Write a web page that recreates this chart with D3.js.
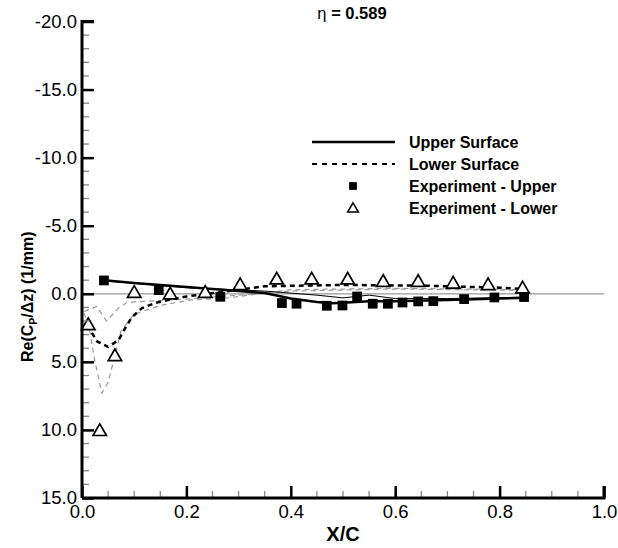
<!DOCTYPE html>
<html>
<head>
<meta charset="utf-8">
<script src="https://cdn.jsdelivr.net/npm/d3@7"></script>
<style>
  body { margin: 0; background: #fff; }
  text { font-family: "Liberation Sans", Arial, sans-serif; }
</style>
</head>
<body>
<script>
// experiment taps, upper surface
var expUpperX = [0.042, 0.147, 0.265, 0.383, 0.411, 0.469, 0.499, 0.527, 0.557, 0.586, 0.614, 0.644, 0.673, 0.732, 0.790, 0.847];
var expUpperY = [-0.98, -0.27, 0.22, 0.68, 0.73, 0.88, 0.86, 0.2, 0.73, 0.73, 0.64, 0.56, 0.54, 0.39, 0.27, 0.24];

// experiment taps, lower surface
var expLowerX = [0.012, 0.034, 0.063, 0.100, 0.169, 0.236, 0.303, 0.373, 0.440, 0.509, 0.577, 0.644, 0.711, 0.778, 0.844];
var expLowerY = [2.27, 10.05, 4.55, -0.1, 0.02, -0.1, -0.66, -1.08, -1.08, -1.08, -0.9, -0.9, -0.78, -0.66, -0.42];

// computed upper surface (thick solid)
var upperX = [0.042, 0.1, 0.2, 0.3, 0.35, 0.4, 0.45, 0.48, 0.5, 0.55, 0.6, 0.7, 0.8, 0.85];
var upperY = [-1.0, -0.8, -0.5, -0.2, -0.05, 0.35, 0.6, 0.7, 0.65, 0.55, 0.55, 0.45, 0.35, 0.3];

// computed lower surface (thick dashed)
var lowerX = [0.01, 0.029, 0.05, 0.07, 0.083, 0.096, 0.115, 0.14, 0.17, 0.2, 0.24, 0.3, 0.35, 0.5, 0.65, 0.8, 0.85];
var lowerY = [2.3, 3.5, 3.9, 3.4, 2.5, 1.7, 1.05, 0.68, 0.4, 0.2, 0.0, -0.3, -0.55, -0.65, -0.6, -0.45, -0.35];

// other runs (thin lines)
var thinUpperX = [0.042, 0.2, 0.35, 0.45, 0.5, 0.55, 0.6, 0.7, 0.85];
var thinUpperY = [-0.95, -0.45, -0.2, 0.1, 0.3, 0.1, 0.35, 0.35, 0.25];
var thinLowerAX = [0.004, 0.015, 0.025, 0.038, 0.05, 0.06, 0.075, 0.1, 0.15, 0.21, 0.28, 0.34, 0.4, 0.6, 0.85];
var thinLowerAY = [1.4, 2.8, 5.0, 7.3, 6.5, 5.0, 2.7, 1.5, 0.85, 0.45, 0.3, 0.0, -0.3, -0.4, -0.3];
var thinLowerBX = [0.004, 0.028, 0.047, 0.07, 0.086, 0.117, 0.18, 0.25, 0.3, 0.4, 0.6, 0.85];
var thinLowerBY = [1.3, 0.93, 2.0, 1.05, 0.64, 0.56, 0.44, 0.25, 0.1, -0.2, -0.35, -0.25];

var legendLabels = ["Upper Surface", "Lower Surface", "Experiment - Upper", "Experiment - Lower"];

var width = 618, height = 548;
var svg = d3.select("body").append("svg")
    .attr("width", width)
    .attr("height", height);

var x = d3.scaleLinear().domain([0, 1]).range([82, 604]);
var y = d3.scaleLinear().domain([-20, 15]).range([21.5, 498]);

//tick labels use a plain hyphen for negatives
var fmt = function(d){ return d3.format(".1f")(d).replace("\u2212", "-"); };

function pts(xs, ys){
    return xs.map(function(v, i){ return [v, ys[i]]; });
}
var line = d3.line().x(function(d){ return x(d[0]); }).y(function(d){ return y(d[1]); });

//zero line
svg.append("line")
    .attr("x1", x(0)).attr("x2", x(1))
    .attr("y1", y(0)).attr("y2", y(0))
    .attr("stroke", "#999").attr("stroke-width", 1.2);

//thin lines from other runs
svg.append("path").datum(pts(thinLowerAX, thinLowerAY))
    .attr("d", line).attr("fill", "none")
    .attr("stroke", "#999").attr("stroke-width", 1.2).attr("stroke-dasharray", "5,4");
svg.append("path").datum(pts(thinLowerBX, thinLowerBY))
    .attr("d", line).attr("fill", "none")
    .attr("stroke", "#999").attr("stroke-width", 1.2).attr("stroke-dasharray", "5,4");
svg.append("path").datum(pts(thinUpperX, thinUpperY))
    .attr("d", line).attr("fill", "none")
    .attr("stroke", "#000").attr("stroke-width", 1);

//main computed lines
svg.append("path").datum(pts(upperX, upperY))
    .attr("d", line).attr("fill", "none")
    .attr("stroke", "#000").attr("stroke-width", 2.5);
svg.append("path").datum(pts(lowerX, lowerY))
    .attr("d", line).attr("fill", "none")
    .attr("stroke", "#000").attr("stroke-width", 2.5).attr("stroke-dasharray", "5,4");

//experiment markers
var sq = d3.symbol().type(d3.symbolSquare).size(95);
var tri = d3.symbol().type(d3.symbolTriangle).size(78);

svg.selectAll(".expUpper")
    .data(pts(expUpperX, expUpperY))
    .enter().append("path")
    .attr("class", "expUpper")
    .attr("d", sq)
    .attr("transform", function(d){ return "translate(" + x(d[0]) + "," + y(d[1]) + ")"; })
    .attr("fill", "#000");

svg.selectAll(".expLower")
    .data(pts(expLowerX, expLowerY))
    .enter().append("path")
    .attr("class", "expLower")
    .attr("d", tri)
    .attr("transform", function(d){ return "translate(" + x(d[0]) + "," + (y(d[1]) + 1) + ")"; })
    .attr("fill", "#fff").attr("stroke", "#000").attr("stroke-width", 1.7);

//axes
var yMinor = d3.range(-20, 16, 1);
var xMinor = d3.range(0, 1.0001, 0.05);

svg.selectAll(".yMinor").data(yMinor).enter().append("line")
    .attr("x1", x(0)).attr("x2", x(0) + 7)
    .attr("y1", function(d){ return y(d); }).attr("y2", function(d){ return y(d); })
    .attr("stroke", "#888").attr("stroke-width", 1.3);
svg.selectAll(".xMinor").data(xMinor).enter().append("line")
    .attr("y1", y(15)).attr("y2", y(15) - 7)
    .attr("x1", function(d){ return x(d); }).attr("x2", function(d){ return x(d); })
    .attr("stroke", "#888").attr("stroke-width", 1.3);

var yAxis = svg.append("g")
    .attr("transform", "translate(" + x(0) + ",0)")
    .call(d3.axisRight(y).tickValues(d3.range(-20, 16, 5)).tickSize(12).tickFormat(fmt));
yAxis.selectAll("text")
    .attr("x", -5).attr("text-anchor", "end")
    .attr("font-size", 18.5).attr("font-family", "Liberation Sans, Arial, sans-serif")
    .attr("fill", "#000");

var xAxis = svg.append("g")
    .attr("transform", "translate(0," + y(15) + ")")
    .call(d3.axisTop(x).tickValues(d3.range(0, 1.0001, 0.2)).tickSize(12).tickFormat(fmt));
xAxis.selectAll("text")
    .attr("y", 7).attr("dy", "0.71em")
    .attr("font-size", 18.5).attr("font-family", "Liberation Sans, Arial, sans-serif")
    .attr("fill", "#000");

[yAxis, xAxis].forEach(function(g){
    g.select(".domain").attr("stroke", "#000").attr("stroke-width", 3);
    g.selectAll(".tick line").attr("stroke", "#000").attr("stroke-width", 2.5);
});
xAxis.select(".domain").attr("d", "M" + x(0) + ",0H" + x(1) + "V-12");
yAxis.select(".domain").attr("d", "M0," + y(15) + "V" + y(-20) + "H12");

//axis titles
svg.append("text")
    .attr("x", x(0.5)).attr("y", 541)
    .attr("text-anchor", "middle")
    .attr("font-size", 20).attr("font-weight", "bold")
    .text("X/C");

var yTitle = svg.append("text")
    .attr("transform", "translate(33,278) rotate(-90)")
    .attr("font-size", 16).attr("font-weight", "bold");
yTitle.append("tspan").attr("x", -84).text("Re(C");
yTitle.append("tspan").attr("font-size", 10.5).attr("dy", 4).text("P");
yTitle.append("tspan").attr("dy", -4).text("/\u0394z) (1/mm)");

//title
var title = svg.append("text")
    .attr("x", 352).attr("y", 19)
    .attr("text-anchor", "middle")
    .attr("font-size", 16.5);
title.append("tspan").text("\u03b7 ");
title.append("tspan").attr("font-weight", "bold").text("= 0.589");

//legend
var legendY = [142, 164, 186, 208];
var legend = svg.append("g");
legend.selectAll(".legText").data(legendLabels).enter().append("text")
    .attr("x", 409)
    .attr("y", function(d, i){ return legendY[i]; })
    .attr("dy", "0.35em")
    .attr("font-size", 16).attr("font-weight", "bold")
    .text(function(d){ return d; });
legend.append("line")
    .attr("x1", 312).attr("x2", 395).attr("y1", legendY[0]).attr("y2", legendY[0])
    .attr("stroke", "#000").attr("stroke-width", 2.5);
legend.append("line")
    .attr("x1", 312).attr("x2", 395).attr("y1", legendY[1]).attr("y2", legendY[1])
    .attr("stroke", "#000").attr("stroke-width", 2).attr("stroke-dasharray", "5,5");
legend.append("path")
    .attr("d", d3.symbol().type(d3.symbolSquare).size(60))
    .attr("transform", "translate(353," + legendY[2] + ")")
    .attr("fill", "#000");
legend.append("path")
    .attr("d", d3.symbol().type(d3.symbolTriangle).size(50))
    .attr("transform", "translate(353," + (legendY[3] + 1) + ")")
    .attr("fill", "#fff").attr("stroke", "#000").attr("stroke-width", 1.5);
</script>
</body>
</html>
